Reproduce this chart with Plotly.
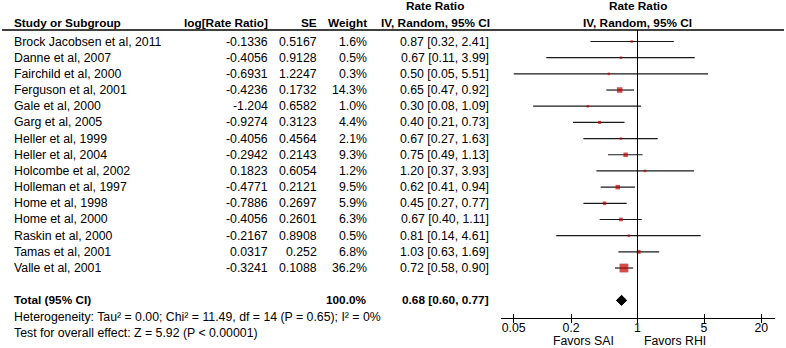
import plotly.graph_objects as go
import math

# ---------------- data ----------------
studies = ["Brock Jacobsen et al, 2011", "Danne et al, 2007", "Fairchild et al, 2000",
           "Ferguson et al, 2001", "Gale et al, 2000", "Garg et al, 2005", "Heller et al, 1999",
           "Heller et al, 2004", "Holcombe et al, 2002", "Holleman et al, 1997", "Home et al, 1998",
           "Home et al, 2000", "Raskin et al, 2000", "Tamas et al, 2001", "Valle et al, 2001"]
log_rr = [-0.1336, -0.4056, -0.6931, -0.4236, -1.204, -0.9274, -0.4056, -0.2942, 0.1823,
          -0.4771, -0.7886, -0.4056, -0.2167, 0.0317, -0.3241]
se = [0.5167, 0.9128, 1.2247, 0.1732, 0.6582, 0.3123, 0.4564, 0.2143, 0.6054, 0.2121,
      0.2697, 0.2601, 0.8908, 0.252, 0.1088]
weight = [1.6, 0.5, 0.3, 14.3, 1.0, 4.4, 2.1, 9.3, 1.2, 9.5, 5.9, 6.3, 0.5, 6.8, 36.2]
rate_ratio = [0.87, 0.67, 0.50, 0.65, 0.30, 0.40, 0.67, 0.75, 1.20, 0.62, 0.45, 0.67, 0.81, 1.03, 0.72]
ci_low = [0.32, 0.11, 0.05, 0.47, 0.08, 0.21, 0.27, 0.49, 0.37, 0.41, 0.27, 0.40, 0.14, 0.63, 0.58]
ci_high = [2.41, 3.99, 5.51, 0.92, 1.09, 0.73, 1.63, 1.13, 3.93, 0.94, 0.77, 1.11, 4.61, 1.69, 0.90]

total_rr, total_low, total_high, total_weight = 0.68, 0.60, 0.77, 100.0
heterogeneity = "Heterogeneity: Tau² = 0.00; Chi² = 11.49, df = 14 (P = 0.65); I² = 0%"
overall = "Test for overall effect: Z = 5.92 (P &lt; 0.00001)"
tick_vals = [0.05, 0.2, 1, 5, 20]
tick_text = ["0.05", "0.2", "1", "5", "20"]
favors_left, favors_right = "Favors SAI", "Favors RHI"
null_value = 1

# ---------------- layout constants ----------------
W, H = 786, 348
FONT = "Liberation Sans, Arial, sans-serif"
FS = 12.3
FSB = 11.8
ROW0_PX, ROW_PX = 41.5, 16.18
def px_to_row(p):
    return (p - ROW0_PX) / ROW_PX

rows = list(range(len(studies)))
total_row = len(studies) + 1
het_row = total_row + 1
test_row = total_row + 2
axis_px = 317.5

fig = go.Figure()

# CI lines
lx, ly = [], []
for r, lo, hi in zip(rows, ci_low, ci_high):
    lx += [lo, hi, None]
    ly += [r, r, None]
fig.add_trace(go.Scatter(x=lx, y=ly, mode="lines", line=dict(color="#1a1a1a", width=1.2),
                         hoverinfo="skip", showlegend=False))

# weighted squares
sizes = [max(2.5, 8.8 * math.sqrt(w / max(weight))) for w in weight]
fig.add_trace(go.Scatter(x=rate_ratio, y=rows, mode="markers",
                         marker=dict(symbol="square", size=sizes, color="#BF0000",
                                     line=dict(width=0)),
                         showlegend=False))

# total diamond
h = 0.31
fig.add_trace(go.Scatter(x=[total_low, total_rr, total_high, total_rr, total_low],
                         y=[total_row, total_row - h, total_row, total_row + h, total_row],
                         mode="lines", fill="toself", fillcolor="black",
                         line=dict(color="black", width=1), showlegend=False))

ann = []
def txt(x, y, s, anchor="left", bold=False, xref="paper", xshift=0):
    ann.append(dict(x=x, y=y, xref=xref, yref="y", text=("<b>%s</b>" % s) if bold else s,
                    showarrow=False, xanchor=anchor, yanchor="middle", xshift=xshift,
                    font=dict(family=FONT, size=FSB if bold else FS, color="black")))

col_study = 12 / W
col_log = 270 / W
col_se = 319 / W
col_w = 369 / W
col_ci = 491 / W
col_ci_c = 435 / W
null_log = math.log10(null_value)   # annotations on a log axis use log10 units

h1 = px_to_row(6)
h2 = px_to_row(23)
txt(col_study, h2, "Study or Subgroup", bold=True)
txt(col_log, h2, "log[Rate Ratio]", "right", bold=True)
txt(col_se, h2, "SE", "right", bold=True)
txt(col_w, h2, "Weight", "right", bold=True)
txt(col_ci_c, h1, "Rate Ratio", "center", bold=True)
txt(col_ci_c, h2, "IV, Random, 95% CI", "center", bold=True)
txt(null_log, h1, "Rate Ratio", "center", bold=True, xref="x")
txt(null_log, h2, "IV, Random, 95% CI", "center", bold=True, xref="x")

for r, s, l, e, w, rr, lo, hi in zip(rows, studies, log_rr, se, weight, rate_ratio, ci_low, ci_high):
    txt(col_study, r, s)
    txt(col_log, r, str(l), "right")
    txt(col_se, r, str(e), "right")
    txt(col_w, r, f"{w:.1f}%", "right")
    txt(col_ci, r, f"{rr:.2f} [{lo:.2f}, {hi:.2f}]", "right")

txt(col_study, total_row, "Total (95% CI)", bold=True)
txt(col_w, total_row, f"{total_weight:.1f}%", "right", bold=True)
txt(col_ci, total_row, f"{total_rr:.2f} [{total_low:.2f}, {total_high:.2f}]", "right", bold=True)
txt(col_study, het_row, heterogeneity)
txt(col_study, test_row, overall)

fav_row = px_to_row(341)
txt(null_log, fav_row, favors_left, "right", xref="x", xshift=-22)
txt(null_log, fav_row, favors_right, "left", xref="x", xshift=4)

line_row = px_to_row(30)
shapes = [
    dict(type="line", xref="paper", yref="y", x0=2 / W, x1=784 / W, y0=line_row, y1=line_row,
         line=dict(color="black", width=1.5)),
    dict(type="line", xref="x", yref="y", x0=null_value, x1=null_value, y0=line_row,
         y1=px_to_row(axis_px), line=dict(color="black", width=1)),
]

xr = [-1.44, 1.44]
dom = [500.5 / W, 774.5 / W]
pos = 1 - axis_px / H
fig.update_layout(
    width=W, height=H, margin=dict(l=0, r=0, t=0, b=0),
    paper_bgcolor="white", plot_bgcolor="white",
    annotations=ann, shapes=shapes,
    xaxis=dict(type="log", range=xr, domain=dom, anchor="free", position=pos,
               showline=True, linecolor="black", linewidth=1, ticks="outside", ticklen=4,
               tickcolor="black", tickvals=tick_vals, ticktext=tick_text, showgrid=False,
               zeroline=False, ticklabelstandoff=-5,
               tickfont=dict(family=FONT, size=FS, color="black")),
    xaxis2=dict(type="log", range=xr, domain=dom, anchor="free", position=pos,
                overlaying="x", ticks="inside", ticklen=4, tickcolor="black",
                tickvals=tick_vals, showticklabels=False, showgrid=False, zeroline=False,
                showline=False),
    yaxis=dict(range=[px_to_row(H), px_to_row(0)], domain=[0, 1], visible=False),
    font=dict(family=FONT, size=FS, color="black"),
)
# invisible trace to activate xaxis2
fig.add_trace(go.Scatter(x=[1], y=[0], xaxis="x2", mode="markers", marker=dict(opacity=0),
                         hoverinfo="skip", showlegend=False))

fig.write_html("out.html", config={"displayModeBar": False},
               post_script="document.body.style.margin='0';document.body.style.overflow='hidden';")
